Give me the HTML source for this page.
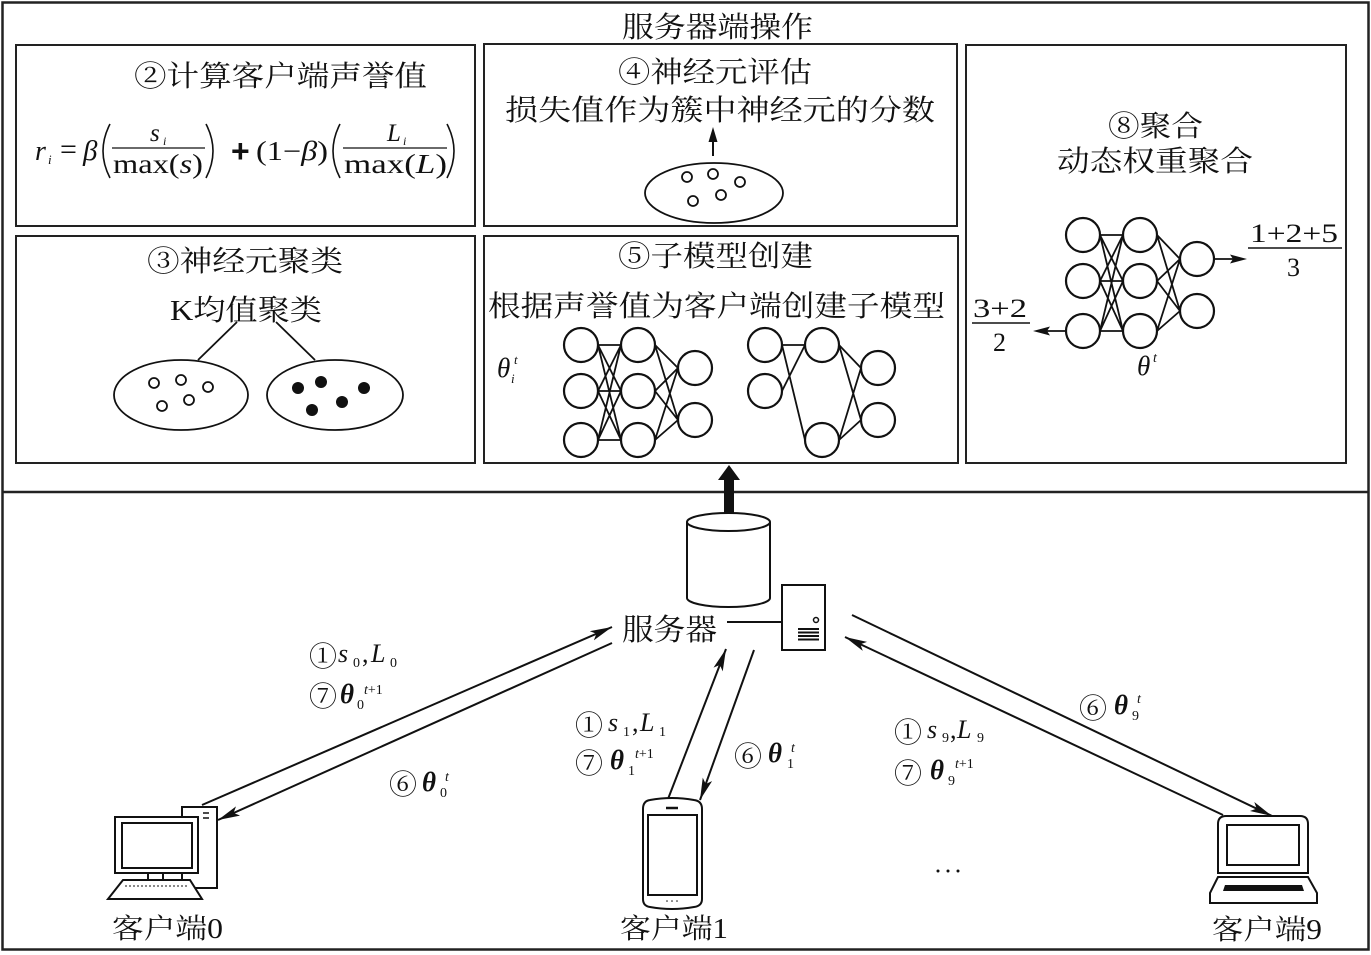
<!DOCTYPE html>
<html><head><meta charset="utf-8"><style>
html,body{margin:0;padding:0;background:#fff;}
svg{display:block;}
.cn{font-family:"Liberation Serif","Noto Serif CJK SC",serif;fill:#111;}
.m{font-family:"Liberation Serif","Noto Serif CJK SC",serif;fill:#111;}
</style></head><body>
<svg width="1371" height="955" viewBox="0 0 1371 955" xmlns="http://www.w3.org/2000/svg">
<defs>
<marker id="ah" markerUnits="userSpaceOnUse" markerWidth="24" markerHeight="12" refX="22" refY="5" orient="auto">
<path d="M0,0 L22,5 L0,10 L5,5 z" fill="#111"/>
</marker>
</defs>
<rect x="0" y="0" width="1371" height="955" fill="#fff"/>
<!-- outer frame -->
<rect x="2.5" y="2.5" width="1366" height="947" fill="none" stroke="#222" stroke-width="2.5"/>
<line x1="2" y1="492" x2="1369" y2="492" stroke="#222" stroke-width="2.5"/>

<text class="cn" x="622" y="37" font-size="29" textLength="191" lengthAdjust="spacingAndGlyphs">服务器端操作</text>

<!-- boxes -->
<g fill="none" stroke="#222" stroke-width="2">
<rect x="16" y="45" width="459" height="181"/>
<rect x="16" y="236" width="459" height="227"/>
<rect x="484" y="44" width="473" height="182"/>
<rect x="484" y="236" width="474" height="227"/>
<rect x="966" y="45" width="380" height="418"/>
</g>

<!-- box 2 -->
<text class="cn" x="134" y="86" font-size="29" textLength="293" lengthAdjust="spacingAndGlyphs">②计算客户端声誉值</text>
<g class="m">
<text x="35" y="160" font-size="28" font-style="italic">r</text>
<text x="48" y="164" font-size="13" font-style="italic">i</text>
<text x="60" y="159" font-size="30">=</text>
<text x="83" y="160" font-size="29" font-style="italic">β</text>
<text x="150" y="141" font-size="25" font-style="italic">s</text>
<text x="163" y="145" font-size="12" font-style="italic">i</text>
<text x="113" y="173" font-size="27" textLength="90" lengthAdjust="spacingAndGlyphs">max(<tspan font-style="italic">s</tspan>)</text>
<text x="231" y="162" font-size="32" font-weight="bold" font-family="Liberation Sans, sans-serif">+</text>
<text x="256" y="160" font-size="27" textLength="72" lengthAdjust="spacingAndGlyphs">(1−<tspan font-style="italic">β</tspan>)</text>
<text x="387" y="141" font-size="25" font-style="italic">L</text>
<text x="403" y="145" font-size="12" font-style="italic">i</text>
<text x="344" y="173" font-size="27" textLength="103" lengthAdjust="spacingAndGlyphs">max(<tspan font-style="italic">L</tspan>)</text>
</g>
<g fill="none" stroke="#111" stroke-width="1.6">
<line x1="112" y1="148" x2="205" y2="148" stroke-width="1.2"/>
<line x1="343" y1="148" x2="447" y2="148" stroke-width="1.2"/>
<path d="M110,124 Q96,151 110,178"/>
<path d="M206,124 Q220,151 206,178"/>
<path d="M340,124 Q326,151 340,178"/>
<path d="M447,124 Q461,151 447,178"/>
</g>

<!-- box 3 -->
<text class="cn" x="147" y="271" font-size="29" textLength="196" lengthAdjust="spacingAndGlyphs">③神经元聚类</text>
<text class="cn" x="170" y="320" font-size="29" textLength="152" lengthAdjust="spacingAndGlyphs">K均值聚类</text>
<g stroke="#111" stroke-width="1.8" fill="none">
<line x1="237" y1="322" x2="198" y2="360"/>
<line x1="276" y1="322" x2="315" y2="360"/>
<ellipse cx="181" cy="395" rx="67" ry="35"/>
<ellipse cx="335" cy="395" rx="68" ry="35"/>
<circle cx="154" cy="383" r="5"/>
<circle cx="181" cy="380" r="5"/>
<circle cx="208" cy="387" r="5"/>
<circle cx="162" cy="406" r="5"/>
<circle cx="189" cy="400" r="5"/>
</g>
<g fill="#111">
<circle cx="298" cy="388" r="6"/>
<circle cx="321" cy="382" r="6"/>
<circle cx="364" cy="388" r="6"/>
<circle cx="312" cy="410" r="6"/>
<circle cx="342" cy="402" r="6"/>
</g>

<!-- box 4 -->
<text class="cn" x="618" y="82" font-size="29" textLength="194" lengthAdjust="spacingAndGlyphs">④神经元评估</text>
<text class="cn" x="505" y="120" font-size="29" textLength="430" lengthAdjust="spacingAndGlyphs">损失值作为簇中神经元的分数</text>
<line x1="713" y1="156" x2="713" y2="138" stroke="#111" stroke-width="2"/>
<path d="M708.5,142 L713,127 L717.5,142 z" fill="#111"/>
<g stroke="#111" stroke-width="1.8" fill="none">
<ellipse cx="714" cy="193" rx="69" ry="30"/>
<circle cx="687" cy="177" r="5"/>
<circle cx="713" cy="174" r="5"/>
<circle cx="740" cy="182" r="5"/>
<circle cx="693" cy="201" r="5"/>
<circle cx="721" cy="195" r="5"/>
</g>

<!-- box 5 -->
<text class="cn" x="618" y="266" font-size="29" textLength="195" lengthAdjust="spacingAndGlyphs">⑤子模型创建</text>
<text class="cn" x="488" y="316" font-size="29" textLength="457" lengthAdjust="spacingAndGlyphs">根据声誉值为客户端创建子模型</text>
<g class="m">
<text x="497" y="377" font-size="27" font-style="italic">θ</text>
<text x="511" y="383" font-size="13" font-style="italic">i</text>
<text x="514" y="364" font-size="13" font-style="italic">t</text>
</g>
<g stroke="#111" stroke-width="1.8" fill="none">
<path d="M598,345 L621,345 M598,345 L621,391 M598,345 L621,440
M598,391 L621,345 M598,391 L621,391 M598,391 L621,440
M598,440 L621,345 M598,440 L621,391 M598,440 L621,440
M655,345 L678,368 M655,345 L678,420 M655,391 L678,368 M655,391 L678,420 M655,440 L678,368 M655,440 L678,420"/>
<path d="M782,345 L805,345 M782,345 L805,440 M782,391 L805,345
M839,345 L861,368 M839,345 L861,420 M839,440 L861,368 M839,440 L861,420"/>
</g>
<g stroke="#111" stroke-width="2.2" fill="#fff">
<circle cx="581" cy="345" r="17"/><circle cx="581" cy="391" r="17"/><circle cx="581" cy="440" r="17"/>
<circle cx="638" cy="345" r="17"/><circle cx="638" cy="391" r="17"/><circle cx="638" cy="440" r="17"/>
<circle cx="695" cy="368" r="17"/><circle cx="695" cy="420" r="17"/>
<circle cx="765" cy="345" r="17"/><circle cx="765" cy="391" r="17"/>
<circle cx="822" cy="345" r="17"/><circle cx="822" cy="440" r="17"/>
<circle cx="878" cy="368" r="17"/><circle cx="878" cy="420" r="17"/>
</g>

<!-- box 8 -->
<text class="cn" x="1108" y="136" font-size="29" textLength="95" lengthAdjust="spacingAndGlyphs">⑧聚合</text>
<text class="cn" x="1057" y="171" font-size="29" textLength="196" lengthAdjust="spacingAndGlyphs">动态权重聚合</text>
<g stroke="#111" stroke-width="1.8" fill="none">
<path d="M1100,235 L1123,235 M1100,235 L1123,281 M1100,235 L1123,331
M1100,281 L1123,235 M1100,281 L1123,281 M1100,281 L1123,331
M1100,331 L1123,235 M1100,331 L1123,281 M1100,331 L1123,331
M1157,235 L1180,259 M1157,235 L1180,311 M1157,281 L1180,259 M1157,281 L1180,311 M1157,331 L1180,259 M1157,331 L1180,311"/>
<line x1="1214" y1="259" x2="1236" y2="259"/>
<line x1="1066" y1="331" x2="1044" y2="331"/>
</g>
<path d="M1247,259 L1230,254.5 L1233,259 L1230,263.5 z" fill="#111"/>
<path d="M1033,331 L1050,326.5 L1047,331 L1050,335.5 z" fill="#111"/>
<g stroke="#111" stroke-width="2.2" fill="#fff">
<circle cx="1083" cy="235" r="17"/><circle cx="1083" cy="281" r="17"/><circle cx="1083" cy="331" r="17"/>
<circle cx="1140" cy="235" r="17"/><circle cx="1140" cy="281" r="17"/><circle cx="1140" cy="331" r="17"/>
<circle cx="1197" cy="259" r="17"/><circle cx="1197" cy="311" r="17"/>
</g>
<g class="m">
<text x="1250" y="242" font-size="26" textLength="88" lengthAdjust="spacingAndGlyphs">1+2+5</text>
<text x="1287" y="276" font-size="26">3</text>
<text x="973" y="317" font-size="26" textLength="54" lengthAdjust="spacingAndGlyphs">3+2</text>
<text x="993" y="351" font-size="26">2</text>
<text x="1137" y="375" font-size="27" font-style="italic">θ</text>
<text x="1153" y="362" font-size="14" font-style="italic">t</text>
</g>
<line x1="1248" y1="248" x2="1342" y2="248" stroke="#111" stroke-width="1.4"/>
<line x1="972" y1="323" x2="1030" y2="323" stroke="#111" stroke-width="1.4"/>

<!-- thick up arrow -->
<rect x="724" y="477" width="10" height="36" fill="#111"/>
<path d="M718,480 L729,465 L740,480 z" fill="#111"/>

<!-- cylinder -->
<g stroke="#111" stroke-width="2" fill="#fff">
<path d="M687,522 L687,598 A41.5,9 0 0,0 770,598 L770,522"/>
<ellipse cx="728.5" cy="522" rx="41.5" ry="9"/>
</g>

<!-- server -->
<text class="cn" x="622" y="640" font-size="30" textLength="95" lengthAdjust="spacingAndGlyphs">服务器</text>
<line x1="727" y1="622" x2="782" y2="622" stroke="#111" stroke-width="2"/>
<rect x="782" y="585" width="43" height="65" fill="#fff" stroke="#111" stroke-width="2"/>
<circle cx="816" cy="620" r="2.5" fill="none" stroke="#111" stroke-width="1.5"/>
<g stroke="#111" stroke-width="2">
<line x1="798" y1="629" x2="819" y2="629"/>
<line x1="798" y1="632.5" x2="819" y2="632.5"/>
<line x1="798" y1="636" x2="819" y2="636"/>
<line x1="798" y1="639.5" x2="819" y2="639.5"/>
</g>

<!-- comm arrows -->
<g stroke="#111" stroke-width="2" fill="none" marker-end="url(#ah)">
<line x1="202" y1="805" x2="612" y2="627"/>
<line x1="612" y1="643" x2="218" y2="820"/>
<line x1="668" y1="799" x2="726" y2="649"/>
<line x1="754" y1="650" x2="700" y2="800"/>
<line x1="852" y1="615" x2="1272" y2="816"/>
<line x1="1223" y1="815" x2="845" y2="637"/>
</g>

<!-- labels client0 -->
<g class="m">
<text x="309" y="666" font-size="28">①</text>
<text x="338" y="662" font-size="26" font-style="italic">s</text>
<text x="353" y="667" font-size="14">0</text>
<text x="362" y="662" font-size="26">,</text>
<text x="371" y="662" font-size="26" font-style="italic">L</text>
<text x="390" y="667" font-size="14">0</text>
<text x="309" y="706" font-size="28">⑦</text>
<text x="340" y="703" font-size="27" font-style="italic" font-weight="bold">θ</text>
<text x="357" y="709" font-size="14">0</text>
<text x="364" y="694" font-size="14"><tspan font-style="italic">t</tspan>+1</text>
<text x="389" y="794" font-size="28">⑥</text>
<text x="422" y="791" font-size="27" font-style="italic" font-weight="bold">θ</text>
<text x="440" y="797" font-size="14">0</text>
<text x="445" y="781" font-size="14" font-style="italic">t</text>
</g>
<!-- labels client1 -->
<g class="m">
<text x="575" y="735" font-size="28">①</text>
<text x="608" y="731" font-size="26" font-style="italic">s</text>
<text x="623" y="736" font-size="14">1</text>
<text x="632" y="731" font-size="26">,</text>
<text x="640" y="731" font-size="26" font-style="italic">L</text>
<text x="659" y="736" font-size="14">1</text>
<text x="575" y="773" font-size="28">⑦</text>
<text x="610" y="769" font-size="27" font-style="italic" font-weight="bold">θ</text>
<text x="628" y="775" font-size="14">1</text>
<text x="635" y="758" font-size="14"><tspan font-style="italic">t</tspan>+1</text>
<text x="734" y="766" font-size="28">⑥</text>
<text x="768" y="762" font-size="27" font-style="italic" font-weight="bold">θ</text>
<text x="787" y="768" font-size="14">1</text>
<text x="791" y="752" font-size="14" font-style="italic">t</text>
</g>
<!-- labels client9 -->
<g class="m">
<text x="1079" y="718" font-size="28">⑥</text>
<text x="1114" y="714" font-size="27" font-style="italic" font-weight="bold">θ</text>
<text x="1132" y="720" font-size="14">9</text>
<text x="1137" y="703" font-size="14" font-style="italic">t</text>
<text x="894" y="742" font-size="28">①</text>
<text x="927" y="738" font-size="26" font-style="italic">s</text>
<text x="942" y="742" font-size="14">9</text>
<text x="950" y="738" font-size="26">,</text>
<text x="957" y="738" font-size="26" font-style="italic">L</text>
<text x="977" y="742" font-size="14">9</text>
<text x="894" y="783" font-size="28">⑦</text>
<text x="930" y="779" font-size="27" font-style="italic" font-weight="bold">θ</text>
<text x="948" y="785" font-size="14">9</text>
<text x="955" y="768" font-size="14"><tspan font-style="italic">t</tspan>+1</text>
</g>

<!-- dots -->
<g fill="#111">
<circle cx="938" cy="871" r="1.5"/><circle cx="948" cy="871" r="1.5"/><circle cx="958" cy="871" r="1.5"/>
</g>

<!-- client0 desktop -->
<g stroke="#111" stroke-width="2" fill="#fff">
<rect x="182" y="807" width="35" height="81"/>
<rect x="115" y="817" width="83" height="56"/>
<rect x="122" y="823" width="70" height="45"/>
<rect x="148" y="873" width="34" height="7"/>
<line x1="163" y1="873" x2="163" y2="880"/>
<path d="M123,880 L190,880 L202,899 L108,899 z"/>
</g>
<line x1="125" y1="886" x2="188" y2="886" stroke="#111" stroke-width="1" stroke-dasharray="2,2"/>
<g stroke="#111" stroke-width="1.5">
<line x1="203" y1="813" x2="209" y2="813"/>
<line x1="203" y1="818" x2="209" y2="818"/>
</g>
<text class="cn" x="112" y="938" font-size="28" textLength="111" lengthAdjust="spacingAndGlyphs">客户端0</text>

<!-- client1 phone -->
<g stroke="#111" stroke-width="2" fill="#fff">
<path d="M650,800 Q672,796 694,800 Q702,801 702,809 L702,899 Q702,906 694,907 Q672,911 650,907 Q643,906 643,899 L643,809 Q643,801 650,800 z"/>
<rect x="648" y="815" width="49" height="80"/>
</g>
<line x1="666" y1="808" x2="678" y2="808" stroke="#111" stroke-width="2.5"/>
<g fill="#111"><circle cx="667" cy="901" r="0.8"/><circle cx="672" cy="901" r="0.8"/><circle cx="677" cy="901" r="0.8"/></g>
<text class="cn" x="620" y="938" font-size="28" textLength="108" lengthAdjust="spacingAndGlyphs">客户端1</text>

<!-- client9 laptop -->
<g stroke="#111" stroke-width="2" fill="#fff">
<path d="M1218,873 L1218,824 Q1218,816 1226,816 L1300,816 Q1308,816 1308,824 L1308,873 z"/>
<rect x="1227" y="825" width="72" height="40"/>
<path d="M1218,877 L1308,877 L1317,893 L1317,903 L1210,903 L1210,893 z"/>
</g>
<path d="M1225,885 L1302,885 L1304,891 L1223,891 z" fill="#111"/>
<text class="cn" x="1212" y="939" font-size="28" textLength="110" lengthAdjust="spacingAndGlyphs">客户端9</text>
</svg>
</body></html>
